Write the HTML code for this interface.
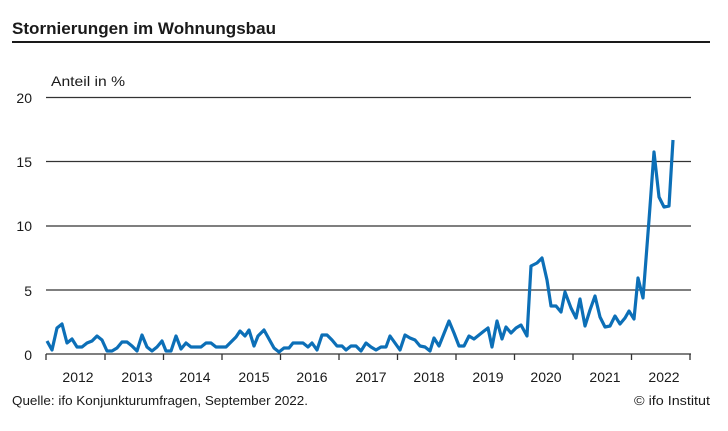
<!DOCTYPE html>
<html><head><meta charset="utf-8"><style>body{margin:0;background:#fff}svg{display:block}</style></head>
<body>
<svg width="728" height="431" viewBox="0 0 728 431" xmlns="http://www.w3.org/2000/svg" font-family="Liberation Sans, sans-serif" fill="#1a1a1a">
<text x="12" y="34" font-size="17" font-weight="bold" textLength="264" lengthAdjust="spacingAndGlyphs">Stornierungen im Wohnungsbau</text>
<rect x="12" y="41" width="698" height="2" fill="#1a1a1a"/>
<text x="51" y="86" font-size="14" textLength="74" lengthAdjust="spacingAndGlyphs">Anteil in %</text>
<g stroke="#333" stroke-width="1.3">
<line x1="46" y1="97.5" x2="691" y2="97.5"/>
<line x1="46" y1="161.5" x2="691" y2="161.5"/>
<line x1="46" y1="226" x2="691" y2="226"/>
<line x1="46" y1="290" x2="691" y2="290"/>
<line x1="46" y1="354" x2="691" y2="354"/>
<path d="M46 354v6M105 354v6M163.5 354v6M222 354v6M280.5 354v6M339 354v6M397.5 354v6M456 354v6M514.5 354v6M573 354v6M631.5 354v6M690 354v6"/>
</g>
<g font-size="14" text-anchor="end">
<text x="32" y="103">20</text><text x="32" y="167">15</text><text x="32" y="231">10</text><text x="32" y="296">5</text><text x="32" y="360">0</text>
</g>
<g font-size="14" text-anchor="middle">
<text x="78" y="382">2012</text><text x="137" y="382">2013</text><text x="195" y="382">2014</text><text x="254" y="382">2015</text><text x="312" y="382">2016</text><text x="371" y="382">2017</text><text x="429" y="382">2018</text><text x="488" y="382">2019</text><text x="546" y="382">2020</text><text x="605" y="382">2021</text><text x="664" y="382">2022</text>
</g>
<text x="12" y="405" font-size="13" textLength="296" lengthAdjust="spacingAndGlyphs">Quelle: ifo Konjunkturumfragen, September 2022.</text>
<text x="710" y="405" font-size="13" text-anchor="end" textLength="76" lengthAdjust="spacingAndGlyphs">© ifo Institut</text>
<polyline fill="none" stroke="#0c6fb7" stroke-width="3.2" stroke-linejoin="round" points="47,341 52,350 57,328 62,324 67,343 72,339 77,347 82,347 87,343 92,341 97,336 102,340 107,351 112,351 117,348 122,342 127,342 132,346 137,351 142,335 147,347 152,351 157,347 162,341 166,351 171,351 176,336 181,349 186,343 191,347 196,347 201,347 206,343 211,343 216,347 226,347 231,342 236,337 240,331 245,336 249,330 254,346 258,336 264,330 269,339 274,348 279,352 284,348 289,348 293,343 303,343 308,347 312,343 317,350 322,335 327,335 332,340 337,346 342,346 346,350 351,346 356,346 361,351 366,343 371,347 376,350 381,347 386,347 390,336 395,343 400,350 405,335 410,338 415,340 420,346 425,347 430,351 434,338 439,346 449,321 454,333 459,346 464,346 469,336 474,339 479,335 484,331 488,328 492,347 497,321 502,339 506,327 511,333 516,328 521,325 527,336 531,266 537,263 542,258 547,280 551,306 556,306 561,312 565,292 571,308 576,318 580,299 585,326 590,310 595,296 600,317 605,327 610,326 615,316 620,324 625,318 629,311 634,319 638,278 643,298 649,220 654,152 659,197 664,207 669,206 673,140"/>
</svg>
</body></html>
